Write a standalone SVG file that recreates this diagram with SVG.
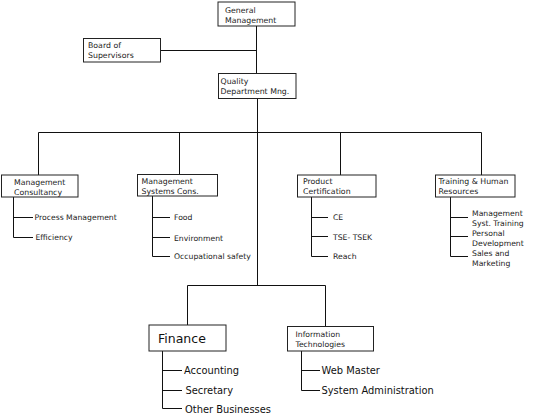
<svg xmlns="http://www.w3.org/2000/svg" width="550" height="417" viewBox="0 0 550 417">
<style>
.box{fill:#fff;stroke:#222;stroke-width:1}
.ln{stroke:#111;stroke-width:1;fill:none}
.t{font-family:"DejaVu Sans",Verdana,sans-serif;font-size:7.8px;fill:#222}
.s{font-family:"DejaVu Sans",Verdana,sans-serif;font-size:7.7px;fill:#222}
.b{font-family:"DejaVu Sans",Verdana,sans-serif;font-size:9.9px;fill:#111}
.f{font-family:"DejaVu Sans",Verdana,sans-serif;font-size:12.5px;fill:#111}
</style>
<rect width="550" height="417" fill="#fff"/>
<g id="connectors">
<path class="ln" d="M256.5 26 V73.5 M161 50.5 H256.5"/>
<path class="ln" d="M257.5 98.5 V285.5 M38.5 132.5 H481.5 M38.5 132.5 V175 M179.5 132.5 V174 M340.5 132.5 V175 M481.5 132.5 V175"/>
<path class="ln" d="M13.5 197 V237.5 H33 M13.5 217.5 H33"/>
<path class="ln" d="M152.5 196 V256.5 H170 M152.5 217.5 H170 M152.5 237.5 H170"/>
<path class="ln" d="M311.5 197 V256.5 H328 M311.5 217.5 H328 M311.5 236.5 H328"/>
<path class="ln" d="M450.5 197 V256.5 H468 M450.5 217.5 H468 M450.5 236.5 H468"/>
<path class="ln" d="M187.5 325 V285.5 H325.5 V326.5"/>
<path class="ln" d="M162.5 351 V408.5 H182 M162.5 370.5 H182 M162.5 390.5 H182"/>
<path class="ln" d="M301.5 351 V390.5 H320 M301.5 370.5 H320"/>
<path class="ln" d="M212.7 180 V186"/>
</g>
<g id="general-management">
<rect class="box" x="218" y="2" width="77" height="24"/>
<text class="t" x="225" y="12.5">General</text>
<text class="t" x="225" y="22.5">Management</text>
</g>
<g id="board-of-supervisors">
<rect class="box" x="83.5" y="38.5" width="77" height="23.5"/>
<text class="t" x="88" y="47.5">Board of</text>
<text class="t" x="88" y="57.5">Supervisors</text>
</g>
<g id="quality-department">
<rect class="box" x="218.5" y="73.5" width="77.5" height="25"/>
<text class="t" x="220.5" y="83.5">Quality</text>
<text class="t" x="220.5" y="93.5">Department Mng.</text>
</g>
<g id="management-consultancy">
<rect class="box" x="1.5" y="175" width="76.5" height="22"/>
<text class="t" x="14" y="185">Management</text>
<text class="t" x="14" y="195">Consultancy</text>
<text class="s" x="34.5" y="220">Process Management</text>
<text class="s" x="35.5" y="240">Efficiency</text>
</g>
<g id="management-systems">
<rect class="box" x="137.5" y="174.5" width="80" height="21.5"/>
<text class="t" x="141.5" y="184">Management</text>
<text class="t" x="141.5" y="194">Systems Cons.</text>
<text class="s" x="174" y="220">Food</text>
<text class="s" x="174" y="241">Environment</text>
<text class="s" x="174" y="259">Occupational safety</text>
</g>
<g id="product-certification">
<rect class="box" x="297.5" y="175" width="78.5" height="22"/>
<text class="t" x="303" y="184">Product</text>
<text class="t" x="303" y="194">Certification</text>
<text class="s" x="333" y="220">CE</text>
<text class="s" x="333" y="239.5">TSE- TSEK</text>
<text class="s" x="333" y="259">Reach</text>
</g>
<g id="training-human-resources">
<rect class="box" x="435.5" y="175" width="79.5" height="22"/>
<text class="t" x="438.5" y="184">Training &amp; Human</text>
<text class="t" x="438.5" y="194">Resources</text>
<text class="s" x="472" y="215.5">Management</text>
<text class="s" x="472" y="225.5">Syst. Training</text>
<text class="s" x="472" y="236">Personal</text>
<text class="s" x="472" y="246">Development</text>
<text class="s" x="472" y="256">Sales and</text>
<text class="s" x="472" y="266">Marketing</text>
</g>
<g id="finance">
<rect class="box" x="149" y="325" width="77" height="26"/>
<text class="f" x="158" y="342.5">Finance</text>
<text class="b" x="184" y="374">Accounting</text>
<text class="b" x="185.5" y="394">Secretary</text>
<text class="b" x="185" y="412.5">Other Businesses</text>
</g>
<g id="information-technologies">
<rect class="box" x="287.5" y="326.5" width="86" height="24.5"/>
<text class="s" x="295.5" y="336.5">Information</text>
<text class="s" x="295.5" y="346.5">Technologies</text>
<text class="b" x="321.5" y="374">Web Master</text>
<text class="b" x="321.5" y="394">System Administration</text>
</g>
</svg>
